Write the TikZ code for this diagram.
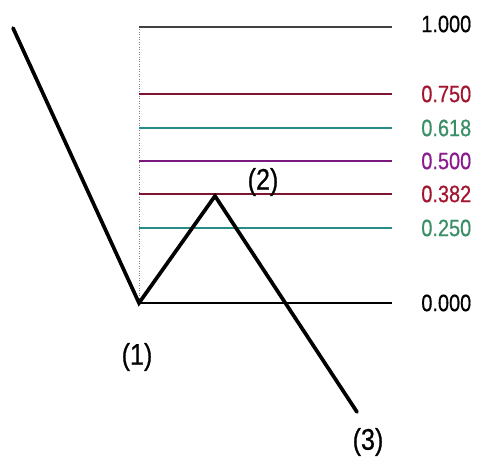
\documentclass[tikz,border=0pt]{standalone}
\usepackage{fontspec}
\setmainfont{Liberation Sans}[FakeStretch=0.84,FakeBold=0.6]
\usetikzlibrary{positioning}
\definecolor{wine}{HTML}{7E1530}
\definecolor{winetext}{HTML}{A3142E}
\definecolor{teal}{HTML}{2A8C86}
\definecolor{tealtext}{HTML}{3A8F66}
\definecolor{plum}{HTML}{7A1A7E}
\definecolor{plumtext}{HTML}{8A1A8E}
\begin{document}
\begin{tikzpicture}[x=0.02cm,y=-0.02cm,level/.style={line width=1.4pt},value/.style={font=\fontsize{13.5}{15}\selectfont,anchor=west,inner sep=0pt},wave/.style={line width=2.1pt,line join=miter,line cap=round},point/.style={font=\fontsize{17}{19}\selectfont,inner sep=0pt}]
 \useasboundingbox (0,0) rectangle (477,475);
 % retracement levels
 \draw[gray,densely dotted,line width=0.4pt] (139,27) -- (139,303);
 \draw[black!75,line width=0.7pt] (139,27) -- (392,27);
 \node[value] (v1000) at (421,24) {1.000};
 \draw[level,wine] (139,94) -- (392,94);
 \node[value,text=winetext] (v750) at (421,94) {0.750};
 \draw[level,teal] (139,128) -- (392,128);
 \node[value,text=tealtext] (v618) at (421,128) {0.618};
 \draw[level,plum] (139,161) -- (392,161);
 \node[value,text=plumtext] (v500) at (421,161) {0.500};
 \draw[level,wine] (139,194) -- (392,194);
 \node[value,text=winetext] (v382) at (421,194) {0.382};
 \draw[level,teal] (139,228) -- (392,228);
 \node[value,text=tealtext] (v250) at (421,228) {0.250};
 \draw[level,black,line width=1.5pt] (139,303) -- (392,303);
 \node[value] (v0) at (421,303) {0.000};
 % price swings
 \coordinate (start) at (13,28);
 \coordinate (low) at (139,303);
 \coordinate (high) at (215,196);
 \coordinate (end) at (357,412);
 \draw[wave] (start) -- (low) -- (high) -- (end);
 \node[point] (n1) at (137,357) {(1)};
 \node[point] (n2) at (263,182) {(2)};
 \node[point] (n3) at (368,442) {(3)};
\end{tikzpicture}
\end{document}
